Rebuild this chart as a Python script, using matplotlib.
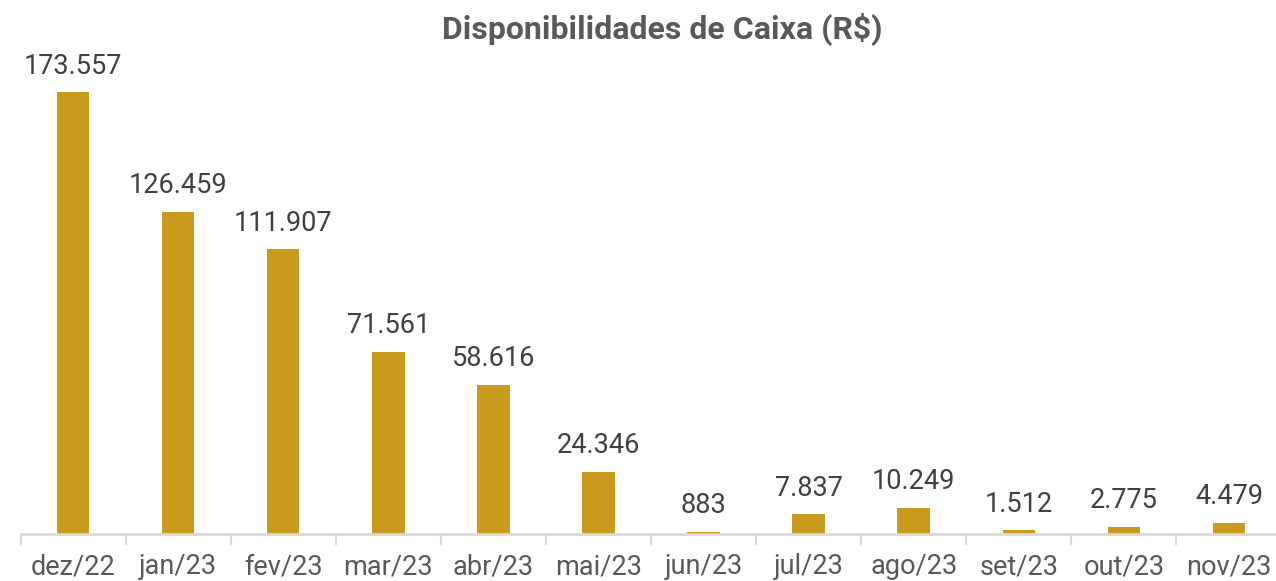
import numpy as np
import matplotlib.pyplot as plt

plt.rcParams['font.family'] = ['Roboto', 'DejaVu Sans']

# dados
meses = ['dez/22', 'jan/23', 'fev/23', 'mar/23', 'abr/23', 'mai/23',
         'jun/23', 'jul/23', 'ago/23', 'set/23', 'out/23', 'nov/23']
valores = [173557, 126459, 111907, 71561, 58616, 24346,
           883, 7837, 10249, 1512, 2775, 4479]
rotulos = ['173.557', '126.459', '111.907', '71.561', '58.616', '24.346',
           '883', '7.837', '10.249', '1.512', '2.775', '4.479']

cor_barra = '#C89B1F'
cor_eixo = '#D9D9D9'

fig = plt.figure(figsize=(12.76, 5.81), dpi=100)
ax = fig.add_axes([20.5 / 1276, 47 / 581, 1261 / 1276, 484 / 581])

x = np.arange(len(meses))
ax.bar(x, valores, width=0.31, color=cor_barra, zorder=2)

for xi, v, r in zip(x, valores, rotulos):
    ax.annotate(r, (xi, v), xytext=(0, 9), textcoords='offset points',
                ha='center', va='bottom', fontsize=19.5, color='#404040')

ax.set_xlim(-0.5, len(meses) - 0.5)
ax.set_ylim(0, 190050)
ax.set_yticks([])
ax.set_xticks(x)
ax.set_xticklabels(meses, fontsize=19.5, color='#595959')
ax.tick_params(axis='x', which='major', length=0, pad=14)
ax.set_xticks(np.arange(len(meses) + 1) - 0.5, minor=True)
ax.tick_params(axis='x', which='minor', length=8, width=1.5, color=cor_eixo)

for s in ['top', 'right', 'left']:
    ax.spines[s].set_visible(False)
ax.spines['bottom'].set_color(cor_eixo)
ax.spines['bottom'].set_linewidth(2)

fig.text(662 / 1276, 1 - 29 / 581, 'Disponibilidades de Caixa (R$)',
         ha='center', va='center', fontsize=23, fontweight='bold', color='#595959')

plt.savefig('out.png', dpi=100)
